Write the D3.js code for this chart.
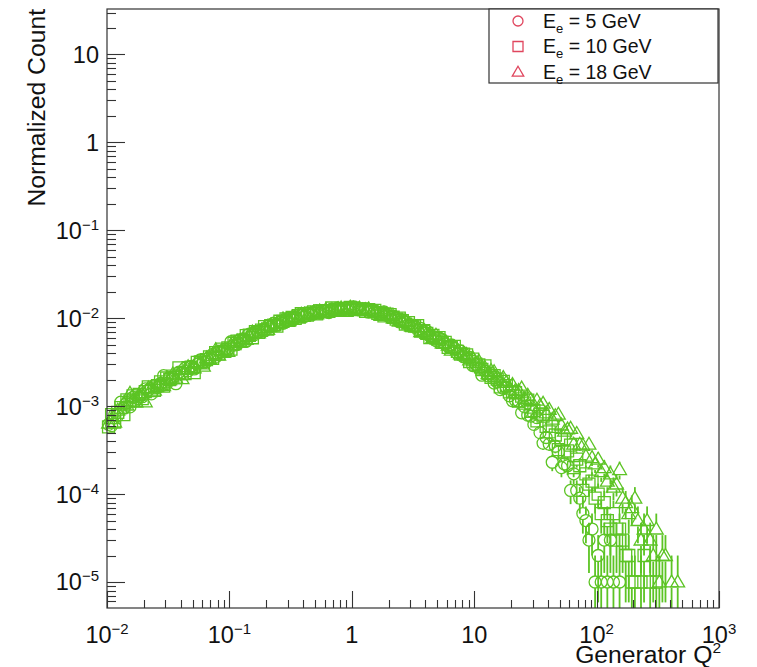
<!DOCTYPE html>
<html>
<head>
<meta charset="utf-8">
<script src="https://cdn.jsdelivr.net/npm/d3@7"></script>
<style>
  html, body { margin: 0; padding: 0; background: #fff; }
  svg { display: block; font-family: "Liberation Sans", Arial, Helvetica, sans-serif; }
</style>
</head>
<body>
<svg id="chart" width="757" height="667"></svg>
<script>
// ---------------- data ----------------
// 200 log-spaced bins in Q^2 between 0.01 and 1000; entries per bin,
// each entry carries a normalised weight of 1e-5.
const nBins = 200;
const qMin = 0.01, qMax = 1000;
const entryWeight = 1e-5;

const seriesLabels = ["5", "10", "18"];
const seriesShapes = ["circle", "square", "triangle"];

const entries5 = [
  62, 60, 80, 78, 111, 95, 110, 98, 126, 135,
  127, 128, 157, 152, 138, 172, 163, 181, 222, 181,
  211, 211, 180, 243, 240, 270, 252, 284, 265, 300,
  335, 317, 322, 357, 387, 361, 420, 413, 445, 445,
  540, 495, 502, 566, 581, 545, 660, 671, 660, 704,
  740, 721, 806, 799, 877, 842, 900, 877, 965, 1005,
  998, 1013, 1099, 1087, 1046, 1139, 1120, 1162, 1223, 1143,
  1209, 1204, 1159, 1269, 1252, 1305, 1242, 1296, 1246, 1301,
  1344, 1271, 1243, 1264, 1268, 1175, 1235, 1173, 1174, 1117,
  1179, 1077, 1029, 1054, 1001, 911, 962, 912, 842, 837,
  819, 743, 765, 700, 713, 627, 619, 556, 589, 573,
  511, 477, 496, 453, 398, 424, 365, 354, 358, 290,
  299, 270, 225, 251, 221, 224, 183, 188, 154, 160,
  164, 131, 115, 116, 114, 84, 98, 79, 77, 62,
  74, 50, 38, 44, 37, 23, 35, 30, 20, 22,
  21, 11, 17, 11, 9, 6, 5, 3, 4, 1,
  2, 1, 3, 1, 3, 1, 0, 1, 0, 0,
  0, 0, 0, 0, 0, 0, 0, 0, 0, 0,
  0, 0, 0, 0, 0, 0, 0, 0, 0, 0,
  0, 0, 0, 0, 0, 0, 0, 0, 0, 0
];

const entries10 = [
  58, 80, 66, 85, 96, 80, 118, 114, 131, 115,
  136, 122, 146, 166, 150, 151, 171, 189, 169, 209,
  201, 219, 211, 272, 235, 235, 274, 277, 240, 314,
  318, 310, 339, 363, 349, 405, 394, 446, 420, 460,
  446, 518, 550, 545, 562, 635, 640, 600, 702, 691,
  734, 801, 753, 822, 834, 813, 924, 923, 981, 949,
  1023, 997, 1067, 1126, 1079, 1082, 1140, 1182, 1121, 1211,
  1185, 1221, 1201, 1307, 1241, 1226, 1292, 1282, 1228, 1329,
  1308, 1256, 1275, 1274, 1198, 1251, 1190, 1228, 1133, 1140,
  1062, 1110, 1098, 1026, 976, 1001, 937, 855, 890, 823,
  814, 823, 714, 721, 674, 601, 639, 593, 601, 531,
  530, 466, 474, 479, 419, 390, 391, 383, 322, 343,
  301, 294, 261, 287, 236, 212, 223, 203, 166, 191,
  171, 145, 146, 142, 114, 130, 108, 117, 87, 89,
  68, 81, 77, 59, 51, 59, 47, 32, 42, 30,
  31, 36, 20, 25, 21, 11, 17, 13, 14, 9,
  10, 6, 8, 5, 4, 6, 3, 4, 3, 2,
  2, 1, 1, 0, 1, 2, 0, 1, 0, 1,
  0, 0, 0, 0, 0, 0, 0, 0, 0, 0,
  0, 0, 0, 0, 0, 0, 0, 0, 0, 0
];

const entries18 = [
  64, 72, 66, 90, 95, 107, 103, 140, 115, 112,
  137, 137, 112, 161, 161, 152, 170, 183, 171, 208,
  200, 233, 208, 231, 205, 262, 281, 271, 273, 317,
  314, 285, 354, 346, 376, 440, 380, 427, 435, 419,
  499, 502, 552, 534, 590, 576, 640, 697, 671, 680,
  732, 776, 745, 836, 831, 878, 879, 984, 935, 940,
  1026, 1038, 1005, 1113, 1109, 1085, 1137, 1169, 1124, 1208,
  1182, 1256, 1194, 1241, 1199, 1287, 1306, 1268, 1264, 1337,
  1301, 1235, 1304, 1242, 1247, 1279, 1165, 1197, 1157, 1076,
  1142, 1087, 1101, 1010, 1014, 927, 937, 942, 854, 811,
  811, 798, 706, 735, 672, 657, 602, 642, 565, 524,
  532, 494, 433, 470, 437, 392, 397, 387, 335, 355,
  313, 326, 273, 274, 234, 255, 247, 215, 197, 212,
  187, 156, 176, 152, 151, 161, 122, 133, 119, 95,
  117, 102, 108, 84, 92, 71, 78, 81, 61, 52,
  55, 56, 37, 49, 37, 36, 27, 37, 26, 22,
  25, 18, 20, 14, 17, 12, 13, 19, 9, 8,
  6, 7, 9, 5, 3, 4, 5, 3, 2, 4,
  1, 2, 2, 0, 1, 0, 1, 0, 0, 0,
  0, 0, 0, 0, 0, 0, 0, 0, 0, 0
];

const seriesEntries = [entries5, entries10, entries18];

const xTickValues = [1e-2, 1e-1, 1, 10, 1e2, 1e3];
const yTickValues = [1e-5, 1e-4, 1e-3, 1e-2, 1e-1, 1, 10];
const yDomain = [5.06e-6, 32.9];

const xTitle = "Generator Q";
const yTitle = "Normalized Count";

// ---------------- drawing ----------------
const green = "#5cc424";
const legendRed = "#e0465e";
const frameColor = "#333";
const labelColor = "#111";

const svg = d3.select("#chart");
svg.append("rect").attr("width", 757).attr("height", 667).attr("fill", "#fff");

const plot = { left: 107, right: 719, top: 9, bottom: 608 };
const x = d3.scaleLog().domain([qMin, qMax]).range([plot.left, plot.right]);
const y = d3.scaleLog().domain(yDomain).range([plot.bottom, plot.top]);

svg.append("clipPath").attr("id", "clip")
  .append("rect").attr("x", plot.left - 10).attr("y", plot.top)
  .attr("width", plot.right - plot.left + 20).attr("height", plot.bottom - plot.top);

const logMin = Math.log10(qMin), logMax = Math.log10(qMax);
const edges = d3.range(nBins + 1).map(k => Math.pow(10, logMin + (logMax - logMin) * k / nBins));
const centres = d3.range(nBins).map(i => (edges[i] + edges[i + 1]) / 2);

function markerPath(shape, s) {
  if (shape === "circle") {
    const r = s;
    return `M${-r},0A${r},${r} 0 1,0 ${r},0A${r},${r} 0 1,0 ${-r},0Z`;
  }
  if (shape === "square") {
    return `M${-s},${-s}H${s}V${s}H${-s}Z`;
  }
  const h = s * 1.15;
  return `M0,${-h}L${h},${h * 0.72}L${-h},${h * 0.72}Z`;
}
const markerR = 6;

const dataG = svg.append("g").attr("clip-path", "url(#clip)");

seriesEntries.forEach((ent, si) => {
  const g = dataG.append("g");
  const pts = ent.map((n, i) => ({ n, v: n * entryWeight, q: centres[i] })).filter(d => d.n > 0);
  pts.forEach(d => {
    const err = Math.sqrt(d.n) * entryWeight;
    const cx = x(d.q), cy = y(d.v);
    const yUp = y(d.v + err);
    const lo = d.v - err;
    const yLo = lo > yDomain[0] ? y(lo) : plot.bottom + 5;
    if (cy - markerR > yUp) {
      g.append("line").attr("x1", cx).attr("x2", cx).attr("y1", cy - markerR).attr("y2", yUp)
        .attr("stroke", green).attr("stroke-width", 1.8);
    }
    if (yLo > cy + markerR) {
      g.append("line").attr("x1", cx).attr("x2", cx).attr("y1", cy + markerR).attr("y2", yLo)
        .attr("stroke", green).attr("stroke-width", 1.8);
    }
  });
  g.selectAll("path.m").data(pts).join("path")
    .attr("class", "m")
    .attr("transform", d => `translate(${x(d.q)},${y(d.v)})`)
    .attr("d", markerPath(seriesShapes[si], markerR))
    .attr("fill", "none").attr("stroke", green).attr("stroke-width", 1.3);
});

svg.append("rect").attr("x", plot.left).attr("y", plot.top)
  .attr("width", plot.right - plot.left).attr("height", plot.bottom - plot.top)
  .attr("fill", "none").attr("stroke", frameColor).attr("stroke-width", 1.2);

function logTicks(domain) {
  const out = [];
  const lo = Math.floor(Math.log10(domain[0])), hi = Math.ceil(Math.log10(domain[1]));
  for (let e = lo; e <= hi; e++) {
    for (let k = 1; k <= 9; k++) {
      const v = k * Math.pow(10, e);
      if (v >= domain[0] * 0.999 && v <= domain[1] * 1.001) out.push({ v, major: k === 1 });
    }
  }
  return out;
}

const tickG = svg.append("g").attr("stroke", frameColor).attr("stroke-width", 1.1);
logTicks(yDomain).forEach(t => {
  const yy = Math.round(y(t.v)) + 0.5;
  tickG.append("line").attr("x1", plot.left).attr("x2", plot.left + (t.major ? 18 : 9))
    .attr("y1", yy).attr("y2", yy);
});
logTicks([qMin, qMax]).forEach(t => {
  const xx = Math.round(x(t.v)) + 0.5;
  tickG.append("line").attr("x1", xx).attr("x2", xx)
    .attr("y1", plot.bottom).attr("y2", plot.bottom - (t.major ? 17 : 8));
});

function powerLabel(sel, v) {
  const e = Math.round(Math.log10(v));
  if (e === 0) { sel.text("1"); return; }
  if (e === 1) { sel.text("10"); return; }
  sel.append("tspan").text("10");
  sel.append("tspan").attr("font-size", 15).attr("dy", -9).text(e < 0 ? "\u2212" + (-e) : String(e));
}

yTickValues.forEach(v => {
  const t = svg.append("text").attr("x", 99).attr("y", y(v) + 8.5)
    .attr("text-anchor", "end").attr("font-size", 23.5).attr("fill", labelColor);
  powerLabel(t, v);
});
xTickValues.forEach(v => {
  const t = svg.append("text").attr("x", x(v)).attr("y", 643)
    .attr("text-anchor", "middle").attr("font-size", 23.5).attr("fill", labelColor);
  powerLabel(t, v);
});

svg.append("text")
  .attr("transform", `translate(45,9) rotate(-90)`)
  .attr("text-anchor", "end").attr("font-size", 24.7).attr("fill", labelColor)
  .text(yTitle);

const xt = svg.append("text").attr("x", 721).attr("y", 663)
  .attr("text-anchor", "end").attr("font-size", 24.7).attr("fill", labelColor);
xt.append("tspan").text(xTitle);
xt.append("tspan").attr("font-size", 15.5).attr("dy", -10).text("2");

const lg = svg.append("g");
lg.append("rect").attr("x", 489).attr("y", 9).attr("width", 229).attr("height", 74)
  .attr("fill", "#fff").attr("stroke", frameColor).attr("stroke-width", 1.2);
seriesLabels.forEach((lab, i) => {
  const cy = 21 + i * 25.5;
  lg.append("path").attr("transform", `translate(518,${cy})`)
    .attr("d", markerPath(seriesShapes[i], 5))
    .attr("fill", "none").attr("stroke", legendRed).attr("stroke-width", 1.3);
  const t = lg.append("text").attr("x", 543).attr("y", cy + 6.5)
    .attr("font-size", 19.5).attr("fill", labelColor);
  t.append("tspan").text("E");
  t.append("tspan").attr("font-size", 13).attr("dy", 5).text("e");
  t.append("tspan").attr("dy", -5).text(" = " + lab + " GeV");
});
</script>
</body>
</html>
